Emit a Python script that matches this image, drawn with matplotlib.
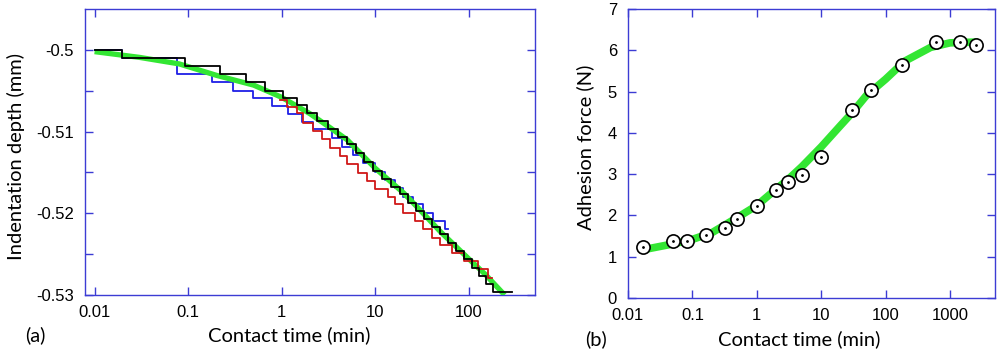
import numpy as np
import matplotlib
matplotlib.use('Agg')
import matplotlib.pyplot as plt
from matplotlib.ticker import FixedLocator, FuncFormatter, NullLocator

# (a) indentation depth vs contact time, stepwise records + smooth fit
black_t = [0.01, 0.0196, 0.092, 0.219, 0.415, 0.661, 1.03, 1.45, 1.86, 2.38, 3.12, 3.99,
           4.97, 6.20, 7.55, 9.43, 11.8, 14.7, 18.3, 22.3, 27.2, 33.0, 40.2, 49.0, 59.6,
           72.6, 88.4, 108, 128, 152, 180, 285]
black_d = [-0.5, -0.501, -0.502, -0.5029, -0.5039, -0.505, -0.5059, -0.5067, -0.5077,
           -0.5087, -0.5097, -0.5106, -0.5115, -0.5126, -0.5137, -0.5148, -0.5158, -0.5168,
           -0.5176, -0.5187, -0.5197, -0.5207, -0.5217, -0.5225, -0.5236, -0.5246, -0.5256,
           -0.5267, -0.5277, -0.5286, -0.5296, -0.5296]

blue_t = [0.01, 0.0196, 0.0759, 0.18, 0.301, 0.492, 0.785, 1.16, 1.64, 2.15, 3.44, 4.40,
          5.76, 7.37, 9.90, 12.7, 16.2, 19.7, 25.2, 32.2, 41.2, 55.4, 59.7]
blue_d = [-0.5, -0.501, -0.5029, -0.5039, -0.505, -0.5059, -0.5069, -0.5078, -0.5088,
          -0.5097, -0.5108, -0.5119, -0.5129, -0.5138, -0.5149, -0.5159, -0.5169, -0.518,
          -0.5188, -0.52, -0.5209, -0.5219, -0.5219]

red_t = [0.96, 1.14, 1.45, 1.68, 2.15, 2.69, 3.27, 4.19, 5.02, 6.52, 8.13, 9.90, 13.6,
         16.2, 19.7, 26.5, 32.2, 40.2, 48.9, 65.8, 88.4, 125, 160, 176]
red_d = [-0.5061, -0.507, -0.5077, -0.5089, -0.5099, -0.5109, -0.512, -0.513, -0.514,
         -0.5151, -0.516, -0.517, -0.518, -0.5188, -0.52, -0.5209, -0.5219, -0.523,
         -0.5239, -0.5248, -0.5258, -0.5268, -0.5279, -0.5279]

fit_a_t = [0.01, 0.03, 0.08, 0.2, 0.5, 1, 2, 3, 5, 10, 20, 30, 50, 100, 150, 240]
fit_a_d = [-0.5002, -0.5009, -0.5017, -0.5031, -0.5043, -0.5058, -0.5078, -0.5092,
           -0.5110, -0.5145, -0.5175, -0.5196, -0.5223, -0.5256, -0.5275, -0.5300]

# (b) adhesion force vs contact time
force_t = [0.0168, 0.05, 0.082, 0.163, 0.325, 0.5, 1, 2, 3, 5, 10, 30, 60, 180, 600, 1440, 2500]
force_n = [1.24, 1.38, 1.38, 1.52, 1.69, 1.91, 2.23, 2.61, 2.82, 2.99, 3.41, 4.55, 5.03,
           5.65, 6.21, 6.21, 6.12]

fit_b_t = [0.016, 0.05, 0.1, 0.2, 0.5, 1, 2, 3, 5, 10, 20, 30, 50, 100, 200, 500, 1000, 2700]
fit_b_n = [1.16, 1.31, 1.42, 1.58, 1.95, 2.24, 2.64, 2.86, 3.18, 3.66, 4.18, 4.48, 4.9,
           5.3, 5.74, 6.07, 6.18, 6.2]

frame_blue = '#3c3cd4'
green = '#33e633'
label_font = ['Lato', 'DejaVu Sans']
plt.rcParams['font.family'] = ['Liberation Sans', 'DejaVu Sans']

fig = plt.figure(figsize=(10.08, 3.53), dpi=100)
ax1 = fig.add_axes([85 / 1008, 58 / 353, 450 / 1008, 286 / 353])
ax2 = fig.add_axes([628 / 1008, 55 / 353, 367 / 1008, 289 / 353])

fmt = FuncFormatter(lambda v, p: '%g' % v)


def style(ax):
    for s in ax.spines.values():
        s.set_color(frame_blue)
        s.set_linewidth(1.0)
    ax.tick_params(which='both', direction='in', top=True, right=True, length=5.5,
                   width=1.0, color=frame_blue, labelsize=12, labelcolor='black')
    ax.tick_params(axis='y', pad=8)
    ax.tick_params(axis='x', pad=7)


# panel (a)
ax1.plot(blue_t, blue_d, drawstyle='steps-post', color='#1f1fe6', lw=1.3, zorder=2)
ax1.plot(fit_a_t, fit_a_d, color=green, lw=3.8, solid_capstyle='butt', zorder=3)
ax1.plot(red_t, red_d, drawstyle='steps-post', color='#d01818', lw=1.3, zorder=4)
ax1.plot(black_t, black_d, drawstyle='steps-post', color='black', lw=1.3, zorder=5)
ax1.set_xscale('log')
ax1.set_xlim(0.0079, 507)
ax1.set_ylim(-0.53, -0.49498)
ax1.xaxis.set_major_locator(FixedLocator([0.01, 0.1, 1, 10, 100]))
ax1.xaxis.set_minor_locator(NullLocator())
ax1.xaxis.set_major_formatter(fmt)
ax1.yaxis.set_major_locator(FixedLocator([-0.53, -0.52, -0.51, -0.5]))
ax1.yaxis.set_minor_locator(FixedLocator([-0.525, -0.515, -0.505]))
ax1.yaxis.set_major_formatter(fmt)
style(ax1)

# panel (b)
ax2.plot(fit_b_t, fit_b_n, color=green, lw=5.5, solid_capstyle='butt', zorder=2)
ax2.plot(force_t, force_n, 'o', ms=9.5, mfc='white', mec='black', mew=1.2, zorder=3)
ax2.plot(force_t, force_n, '.', ms=2, color='black', zorder=4)
ax2.set_xscale('log')
ax2.set_xlim(0.01, 5000)
ax2.set_ylim(0, 7)
ax2.xaxis.set_major_locator(FixedLocator([0.01, 0.1, 1, 10, 100, 1000]))
ax2.xaxis.set_minor_locator(NullLocator())
ax2.xaxis.set_major_formatter(fmt)
ax2.yaxis.set_major_locator(FixedLocator(range(0, 8)))
style(ax2)

# labels
fig.text(16 / 1008, 1 - 156 / 353, 'Indentation depth (mm)', rotation=90, ha='center',
         va='center', fontsize=14.5, family=label_font)
fig.text(289 / 1008, 1 - 335 / 353, 'Contact time (min)', ha='center', va='center',
         fontsize=14.5, family=label_font)
fig.text(35 / 1008, 1 - 335 / 353, '(a)', ha='center', va='center', fontsize=14.5,
         family=label_font)
fig.text(585 / 1008, 1 - 147 / 353, 'Adhesion force (N)', rotation=90, ha='center',
         va='center', fontsize=14.5, family=label_font)
fig.text(799 / 1008, 1 - 339 / 353, 'Contact time (min)', ha='center', va='center',
         fontsize=14.5, family=label_font)
fig.text(596 / 1008, 1 - 339 / 353, '(b)', ha='center', va='center', fontsize=14.5,
         family=label_font)

plt.savefig('out.png', dpi=100)
